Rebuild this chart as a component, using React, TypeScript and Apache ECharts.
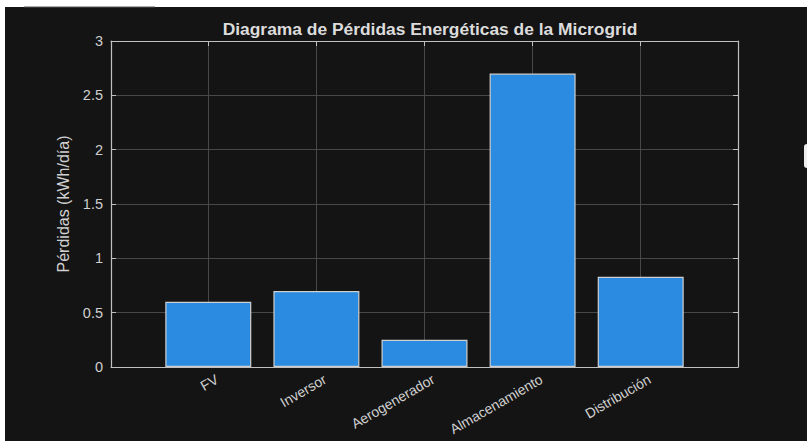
import React, { useEffect, useRef } from "react";
import * as echarts from "echarts";

const categories = ["FV", "Inversor", "Aerogenerador", "Almacenamiento", "Distribución"];
const losses = [0.6, 0.7, 0.25, 2.7, 0.83];
const categoryPositions = [1, 2, 3, 4, 5];
const titleText = "Diagrama de Pérdidas Energéticas de la Microgrid";
const yAxisName = "Pérdidas (kWh/día)";

const FONT = "'Liberation Sans', Arial, sans-serif";
const TEXT = "#d0d0d0";
const AXIS = "#c0c0c0";
const GRIDC = "#484848";

export default function App() {
  const ref = useRef<HTMLDivElement>(null);
  useEffect(() => {
    if (!ref.current) return;
    const chart = echarts.init(ref.current, undefined, { renderer: "svg" });
    const data = categoryPositions.map((x, i) => [x, losses[i]]);
    const labelFor = (v: number) => {
      const idx = categoryPositions.indexOf(Math.round(v));
      return idx >= 0 ? categories[idx] : "";
    };
    chart.setOption({
      animation: false,
      backgroundColor: "#ffffff",
      textStyle: { fontFamily: FONT },
      graphic: [
        { type: "rect", z: -10, silent: true, shape: { x: 5, y: 7, width: 802, height: 434 }, style: { fill: "#141414" } },
        { type: "line", z: -9, silent: true, shape: { x1: 24, y1: 7, x2: 155, y2: 7 }, style: { stroke: "#555", lineWidth: 1 } },
        { type: "rect", silent: true, shape: { x: 804, y: 144, width: 10, height: 24, r: 3 }, style: { fill: "#eeeeee" } },
      ],
      title: {
        text: titleText,
        left: 425,
        textAlign: "center",
        top: 15,
        textStyle: { color: "#dcdcdc", fontSize: 17.4, fontWeight: "bold", fontFamily: FONT },
      },
      grid: { left: 111, right: 69, top: 41, bottom: 74, containLabel: false, outerBoundsMode: "none" },
      xAxis: [
        {
          type: "value",
          min: 0.1,
          max: 5.9,
          position: "bottom",
          axisLine: { show: true, onZero: false, lineStyle: { color: AXIS, width: 1.2 } },
          axisTick: { show: true, inside: true, length: 5, customValues: categoryPositions, lineStyle: { color: AXIS } },
          axisLabel: {
            customValues: categoryPositions,
            formatter: (v: number) => labelFor(v),
            rotate: 30,
            margin: 8,
            verticalAlign: "top",
            align: "right",
            padding: [0, -6, 0, 0],
            color: TEXT,
            fontSize: 14,
            fontFamily: FONT,
          },
          splitLine: { show: true, lineStyle: { color: GRIDC, width: 1 } },
        },
        {
          type: "value",
          min: 0.1,
          max: 5.9,
          position: "top",
          axisLine: { show: true, onZero: false, lineStyle: { color: AXIS, width: 1.2 } },
          axisTick: { show: true, inside: true, length: 5, customValues: categoryPositions, lineStyle: { color: AXIS } },
          axisLabel: { show: false },
          splitLine: { show: false },
        },
      ],
      yAxis: [
        {
          type: "value",
          min: 0,
          max: 3,
          interval: 0.5,
          position: "left",
          name: yAxisName,
          nameLocation: "middle",
          nameGap: 31,
          nameTextStyle: { color: TEXT, fontSize: 16, fontFamily: FONT },
          axisLine: { show: true, onZero: false, lineStyle: { color: AXIS, width: 1.2 } },
          axisTick: { show: true, inside: true, length: 5, lineStyle: { color: AXIS } },
          axisLabel: { color: TEXT, fontSize: 14.5, margin: 8, fontFamily: FONT },
          splitLine: { show: true, lineStyle: { color: GRIDC, width: 1 } },
        },
        {
          type: "value",
          min: 0,
          max: 3,
          interval: 0.5,
          position: "right",
          axisLine: { show: true, onZero: false, lineStyle: { color: AXIS, width: 1.2 } },
          axisTick: { show: true, inside: true, length: 5, lineStyle: { color: AXIS } },
          axisLabel: { show: false },
          splitLine: { show: false },
        },
      ],
      series: [
        {
          type: "bar",
          xAxisIndex: 0,
          yAxisIndex: 0,
          data,
          barWidth: 86,
          itemStyle: { color: "#2a8be0", borderColor: "#cfcfcf", borderWidth: 1.2 },
          z: 3,
        },
      ],
    });
    return () => chart.dispose();
  }, []);
  return (
    <div style={{ position: "fixed", left: 0, top: 0, width: 807, height: 441, background: "#fff" }}>
      <div ref={ref} style={{ width: 807, height: 441 }} />
    </div>
  );
}
